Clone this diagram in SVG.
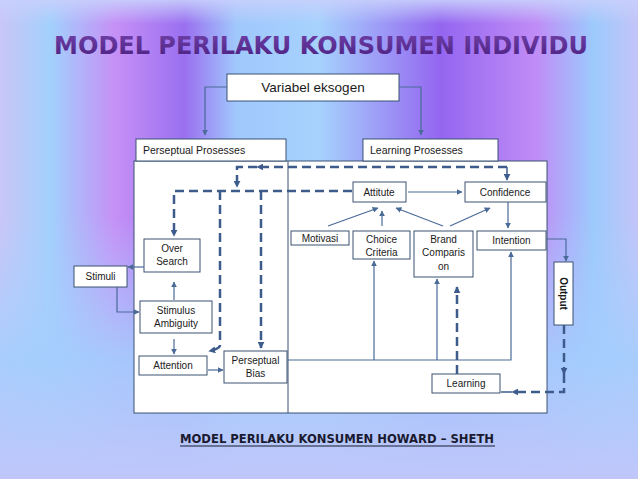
<svg xmlns="http://www.w3.org/2000/svg" width="638" height="479" viewBox="0 0 638 479">
<defs>
<linearGradient id="bgH" x1="0" y1="0" x2="1" y2="0">
<stop offset="0" stop-color="#cac6f8"/>
<stop offset="0.08" stop-color="#a2d0fc"/>
<stop offset="0.18" stop-color="#c690f6"/>
<stop offset="0.29" stop-color="#9a70f0"/>
<stop offset="0.37" stop-color="#a0c8fc"/>
<stop offset="0.50" stop-color="#a6d2fd"/>
<stop offset="0.69" stop-color="#9466f0"/>
<stop offset="0.84" stop-color="#c08cf6"/>
<stop offset="0.93" stop-color="#9ccafc"/>
<stop offset="1" stop-color="#c4c4f8"/>
</linearGradient>
<linearGradient id="bgV" x1="0" y1="0" x2="0" y2="1">
<stop offset="0" stop-color="#c8d0fc" stop-opacity="0.9"/>
<stop offset="0.05" stop-color="#c8d0fc" stop-opacity="0"/>
<stop offset="0.45" stop-color="#a8d0fd" stop-opacity="0"/>
<stop offset="0.75" stop-color="#a4cefd" stop-opacity="0.9"/>
<stop offset="1" stop-color="#c0c6fa" stop-opacity="1"/>
</linearGradient>
<linearGradient id="titleG" x1="0" y1="0" x2="0" y2="1">
<stop offset="0" stop-color="#7040a8"/>
<stop offset="1" stop-color="#4a2080"/>
</linearGradient>
<marker id="ah" viewBox="0 0 10 10" refX="9" refY="5" markerWidth="6" markerHeight="6" orient="auto" markerUnits="userSpaceOnUse">
<path d="M0,0 L10,5 L0,10 z" fill="#4a6a98"/>
</marker>
<marker id="ahd" viewBox="0 0 10 10" refX="9" refY="5" markerWidth="7" markerHeight="7" orient="auto" markerUnits="userSpaceOnUse">
<path d="M0,0 L10,5 L0,10 z" fill="#3d5c8c"/>
</marker>
<style>
.box{fill:#ffffff;stroke:#3a5272;stroke-width:1}
.t{font-family:"Liberation Sans",Arial,sans-serif;font-size:10px;fill:#1a1a1a;text-anchor:middle}
.c{fill:none;stroke:#4a6a98;stroke-width:1.2}
.d{fill:none;stroke:#3d5c8c;stroke-width:2.5;stroke-dasharray:9,5}
</style>
</defs>
<rect x="0" y="0" width="638" height="479" fill="url(#bgH)"/>
<rect x="0" y="0" width="638" height="479" fill="url(#bgV)"/>

<text x="321" y="54" font-family="'DejaVu Sans',sans-serif" font-weight="bold" font-size="24" fill="url(#titleG)" text-anchor="middle">MODEL PERILAKU KONSUMEN INDIVIDU</text>

<g id="main-frame">
<rect x="134" y="161" width="413" height="252" class="box"/>
<line x1="288" y1="161" x2="288" y2="413" stroke="#3a5272" stroke-width="1"/>
</g>

<g id="variabel-eksogen"><rect class="box" x="227" y="74" width="172" height="27"/><text class="t" x="313" y="92" style="font-size:13.5px">Variabel eksogen</text></g>
<g id="perseptual-prosesses"><rect class="box" x="136" y="139" width="150" height="22"/><text class="t" x="143" y="154" style="text-anchor:start;font-size:10.5px">Perseptual Prosesses</text></g>
<g id="learning-prosesses"><rect class="box" x="363" y="139" width="135" height="22"/><text class="t" x="370" y="154" style="text-anchor:start;font-size:10.5px">Learning Prosesses</text></g>

<g id="attitute"><rect class="box" x="353" y="182" width="53" height="20"/><text class="t" x="379" y="195.5">Attitute</text></g>
<g id="confidence"><rect class="box" x="465" y="182" width="81" height="20"/><text class="t" x="505" y="195.5">Confidence</text></g>
<g id="motivasi"><rect class="box" x="291" y="231" width="58" height="14"/><text class="t" x="320" y="242">Motivasi</text></g>
<g id="choice-criteria"><rect class="box" x="353" y="231" width="57" height="28"/><text class="t" x="381.5" y="243">Choice</text><text class="t" x="381.5" y="256">Criteria</text></g>
<g id="brand-comparison"><rect class="box" x="414" y="231" width="59" height="46"/><text class="t" x="443.5" y="243">Brand</text><text class="t" x="443.5" y="256">Comparis</text><text class="t" x="443.5" y="270">on</text></g>
<g id="intention"><rect class="box" x="477" y="231" width="69" height="19"/><text class="t" x="511.5" y="243.5">Intention</text></g>
<g id="output"><rect class="box" x="554" y="262" width="19" height="63"/><text class="t" transform="translate(560 293.5) rotate(90)" style="font-weight:bold">Output</text></g>
<g id="learning"><rect class="box" x="432" y="374" width="68" height="19"/><text class="t" x="466" y="387">Learning</text></g>

<g id="over-search"><rect class="box" x="144" y="239" width="56" height="33"/><text class="t" x="172" y="252">Over</text><text class="t" x="172" y="265">Search</text></g>
<g id="stimuli"><rect class="box" x="74" y="266" width="53" height="21"/><text class="t" x="100.5" y="280">Stimuli</text></g>
<g id="stimulus-ambiguity"><rect class="box" x="140" y="301" width="72" height="32"/><text class="t" x="176" y="314">Stimulus</text><text class="t" x="176" y="327">Ambiguity</text></g>
<g id="attention"><rect class="box" x="139" y="356" width="68" height="19"/><text class="t" x="173" y="369">Attention</text></g>
<g id="perseptual-bias"><rect class="box" x="224" y="351" width="63" height="32"/><text class="t" x="255.5" y="364">Perseptual</text><text class="t" x="255.5" y="377">Bias</text></g>

<g id="connectors">
<path class="c" d="M227 87 H205 V135" marker-end="url(#ah)"/>
<path class="c" d="M399 87 H421 V135" marker-end="url(#ah)"/>
<path class="c" d="M408 192 H462" marker-end="url(#ah)"/>
<path class="c" d="M328 226 L378 208" marker-end="url(#ah)"/>
<path class="c" d="M382 226 V211" marker-end="url(#ah)"/>
<path class="c" d="M443 226 L396 208" marker-end="url(#ah)"/>
<path class="c" d="M450 226 L490 208" marker-end="url(#ah)"/>
<path class="c" d="M508 202 V228" marker-end="url(#ah)"/>
<path class="c" d="M546 239 H566 V261" marker-end="url(#ah)"/>
<path class="c" d="M287 360 H511 V252" marker-end="url(#ah)"/>
<path class="c" d="M374 360 V261" marker-end="url(#ah)"/>
<path class="c" d="M437 360 V279" marker-end="url(#ah)"/>
<path class="c" d="M144 267 H128" marker-end="url(#ah)"/>
<path class="c" d="M117 287 V312 H139" marker-end="url(#ah)"/>
<path class="c" d="M174 300 V282" marker-end="url(#ah)"/>
<path class="c" d="M174 339 V354" marker-end="url(#ah)"/>
<path class="c" d="M208 370 H223" marker-end="url(#ah)"/>

<path class="d" d="M507 167 H257" marker-end="url(#ahd)"/>
<path class="d" d="M257 167 H237 V187" marker-end="url(#ahd)"/>
<path class="c" d="M507 167 V180" style="stroke:#3d5c8c;stroke-width:1.5" marker-end="url(#ahd)"/>
<path class="d" d="M352 191 H174 V236" marker-end="url(#ahd)"/>
<path class="d" d="M220 191 V345 Q220 349 209 351" marker-end="url(#ahd)"/>
<path class="d" d="M261 191 V348" marker-end="url(#ahd)"/>
<path class="d" d="M457 374 V287" marker-end="url(#ahd)"/>
<path class="d" d="M564 325 V374" marker-end="url(#ahd)"/>
<path class="d" d="M564 374 V392 H512" marker-end="url(#ahd)"/>
<path class="c" d="M512 392 H501" style="stroke:#3d5c8c;stroke-width:1.5"/>
</g>

<g id="footer">
<text x="337" y="443" font-family="'DejaVu Sans',sans-serif" font-weight="bold" font-size="12" fill="#1a1a30" text-anchor="middle" textLength="314" lengthAdjust="spacingAndGlyphs">MODEL PERILAKU KONSUMEN HOWARD – SHETH</text>
<line x1="180" y1="446" x2="495" y2="446" stroke="#1a1a30" stroke-width="1"/>
</g>
</svg>
